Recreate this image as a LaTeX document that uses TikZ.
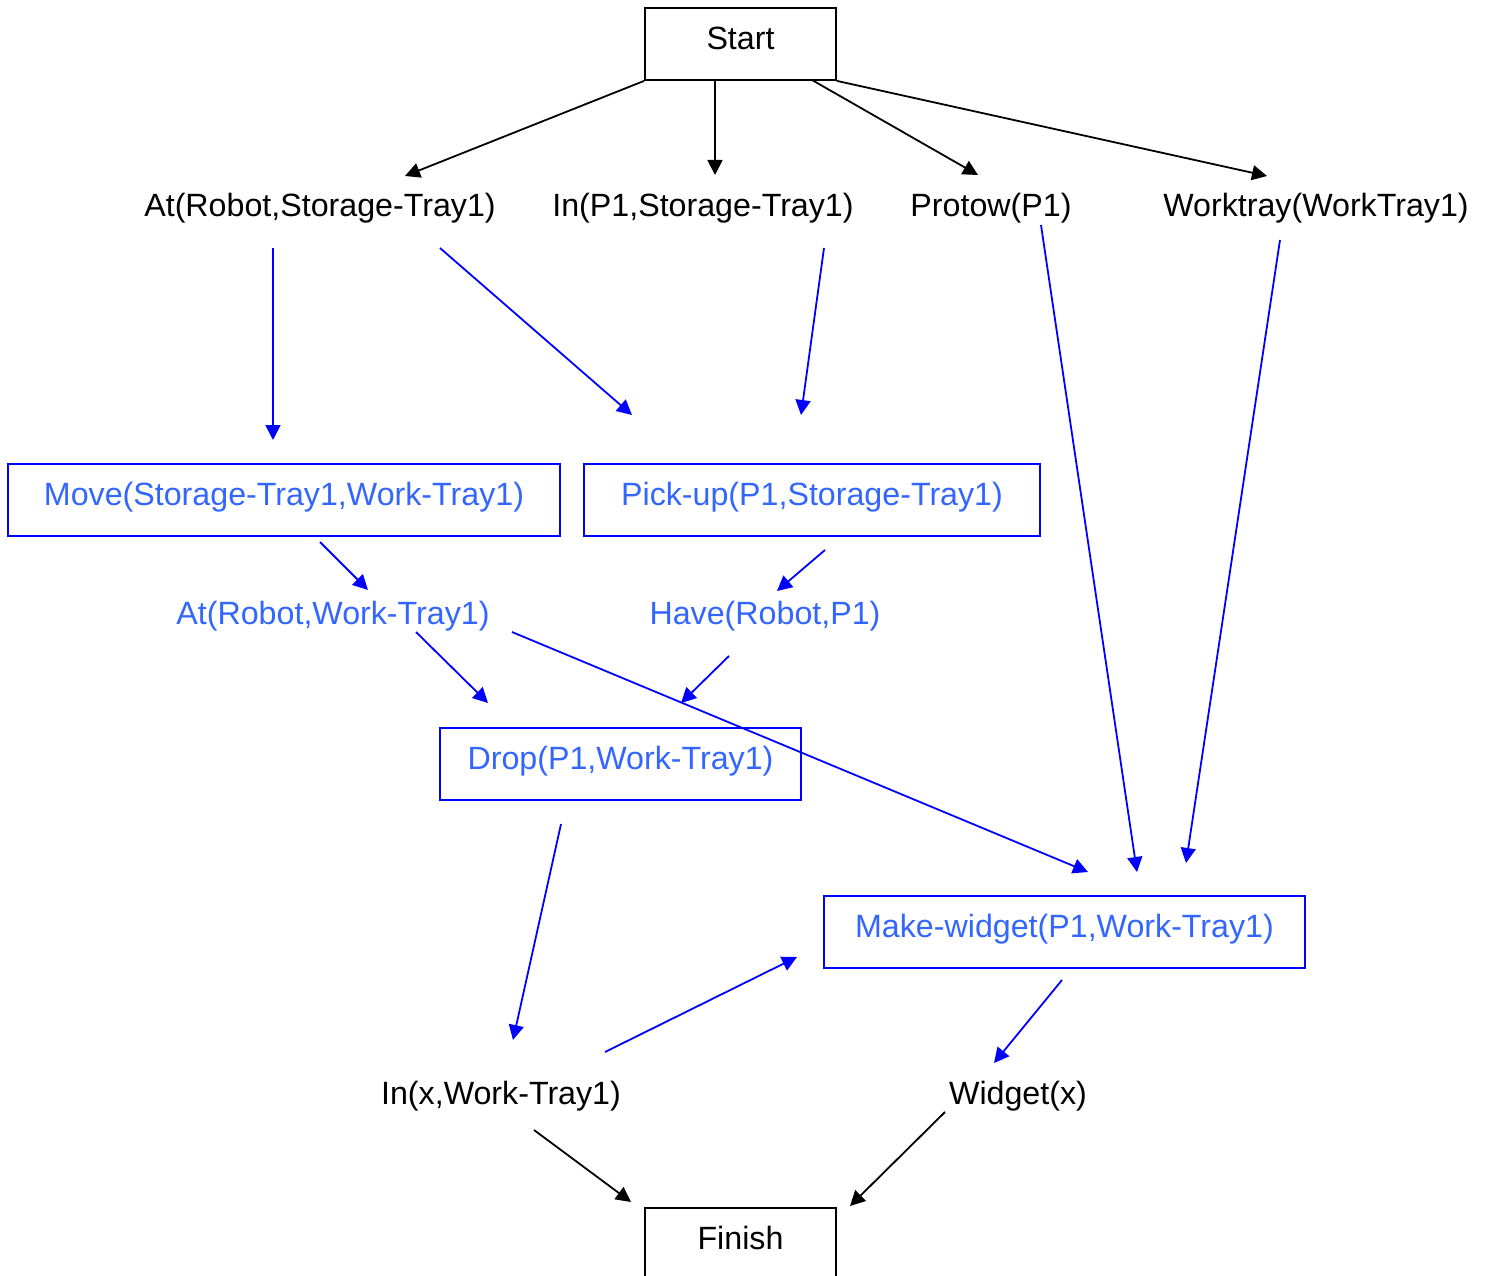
\documentclass[tikz,border=0pt]{standalone}
\usepackage{fontspec}
\setmainfont{Liberation Sans}
\usetikzlibrary{arrows.meta}
\definecolor{lblue}{RGB}{51,102,255}
\definecolor{lineblue}{RGB}{0,0,255}
\begin{document}
\begin{tikzpicture}[x=1pt,y=-1pt,
  font=\fontsize{32.2}{38}\selectfont,
  lbl/.style={inner sep=0pt,text height=23pt,text depth=0pt},
  bx/.style={draw,line width=1.8pt,inner sep=0pt,text height=23pt,text depth=12pt,minimum height=72pt},
  bbox/.style={draw=lineblue,text=lblue},
  arr/.style={-{Triangle[length=15pt,width=15pt]},line width=1.8pt},
  barr/.style={arr,draw=lineblue,fill=lineblue}]
\useasboundingbox (0,0) rectangle (1489,1276);
\clip (0,0) rectangle (1489,1276);
% nodes
\node[bx,minimum width=191pt] (start) at (740.5,44) {Start};
\node[bx,minimum width=191pt] (finish) at (740.5,1244) {Finish};
\node[lbl] (atst) at (320,205) {At(Robot,Storage-Tray1)};
\node[lbl] (inst) at (703,205) {In(P1,Storage-Tray1)};
\node[lbl] (protow) at (991,205) {Protow(P1)};
\node[lbl] (worktray) at (1316,205) {Worktray(WorkTray1)};
\node[bx,bbox,minimum width=552pt] (move) at (284,500) {Move(Storage-Tray1,Work-Tray1)};
\node[bx,bbox,minimum width=456pt] (pickup) at (812,500) {Pick-up(P1,Storage-Tray1)};
\node[lbl,text=lblue] (atwt) at (333,613) {At(Robot,Work-Tray1)};
\node[lbl,text=lblue] (have) at (765,613) {Have(Robot,P1)};
\node[bx,bbox,minimum width=361pt] (drop) at (620.5,764) {Drop(P1,Work-Tray1)};
\node[bx,bbox,minimum width=481pt] (make) at (1064.5,932) {Make-widget(P1,Work-Tray1)};
\node[lbl] (inx) at (501,1093) {In(x,Work-Tray1)};
\node[lbl] (widget) at (1018,1093) {Widget(x)};
% connector end points
\coordinate (s1) at (start.south west);
\coordinate (s2) at (715,80);
\coordinate (s3) at (812,80);
\coordinate (s4) at (start.south east);
\coordinate (t1) at (405,176);
\coordinate (t2) at (715,175);
\coordinate (t3) at (978,175);
\coordinate (t4) at (1267,176);
\coordinate (a1) at (273,248);   \coordinate (b1) at (273,440);
\coordinate (a2) at (440,248);   \coordinate (b2) at (632,415);
\coordinate (a3) at (824,248);   \coordinate (b3) at (801,415);
\coordinate (a4) at (1041,225);  \coordinate (b4) at (1137,872);
\coordinate (a5) at (1280,240);  \coordinate (b5) at (1186,863);
\coordinate (a6) at (320,542);   \coordinate (b6) at (368,590);
\coordinate (a7) at (825,550);   \coordinate (b7) at (777,591);
\coordinate (a8) at (416,632);   \coordinate (b8) at (488,703);
\coordinate (a9) at (729,656);   \coordinate (b9) at (681,703);
\coordinate (a10) at (512,632);  \coordinate (b10) at (1088,872);
\coordinate (a11) at (561,824);  \coordinate (b11) at (513,1040);
\coordinate (a12) at (605,1052); \coordinate (b12) at (797,957);
\coordinate (a13) at (1062,980); \coordinate (b13) at (994,1063);
\coordinate (a14) at (534,1130); \coordinate (b14) at (631,1202);
\coordinate (a15) at (945,1112); \coordinate (b15) at (850,1206);
% black connectors
\draw[arr] (s1) -- (t1);
\draw[arr] (s2) -- (t2);
\draw[arr] (s3) -- (t3);
\draw[arr] (s4) -- (t4);
\draw[arr] (a14) -- (b14);
\draw[arr] (a15) -- (b15);
% blue connectors
\foreach \i in {1,...,13} {\draw[barr] (a\i) -- (b\i);}
\end{tikzpicture}
\end{document}
